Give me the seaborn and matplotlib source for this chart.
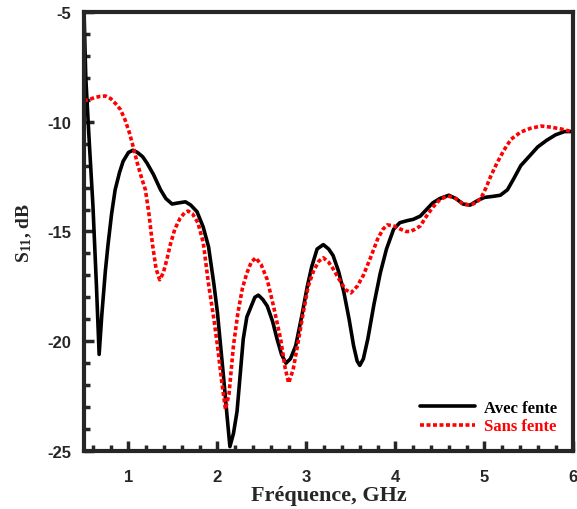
import numpy as np
import pandas as pd
import matplotlib
matplotlib.use("Agg")
import matplotlib.pyplot as plt
from matplotlib.ticker import MultipleLocator
import seaborn as sns

# S11 avec fente (courbe noire)
freq_avec = [0.50, 0.52, 0.56, 0.60, 0.64, 0.67, 0.70, 0.74, 0.77, 0.81, 0.85, 0.90, 0.94,
             1.00, 1.05, 1.10, 1.16, 1.21, 1.28, 1.36, 1.42, 1.49, 1.56, 1.64, 1.70, 1.77,
             1.84, 1.90, 1.96, 2.00, 2.07, 2.11, 2.14, 2.18, 2.22, 2.29, 2.33, 2.37, 2.42,
             2.46, 2.51, 2.56, 2.62, 2.67, 2.72, 2.77, 2.82, 2.88, 2.95, 3.01, 3.06, 3.12,
             3.19, 3.25, 3.30, 3.36, 3.42, 3.48, 3.53, 3.57, 3.60, 3.64, 3.69, 3.76, 3.83,
             3.90, 3.98, 4.05, 4.14, 4.20, 4.28, 4.35, 4.42, 4.50, 4.60, 4.68, 4.76, 4.84,
             4.92, 5.00, 5.10, 5.18, 5.26, 5.33, 5.41, 5.50, 5.60, 5.70, 5.80, 5.90, 6.00]
s11_avec = [-5.0, -8.0, -11.0, -13.8, -17.5, -20.6, -18.8, -16.8, -15.6, -14.2, -13.1, -12.3, -11.8,
            -11.4, -11.3, -11.4, -11.6, -11.9, -12.4, -13.1, -13.5, -13.75, -13.7, -13.65, -13.8, -14.1,
            -14.8, -15.7, -17.4, -18.7, -21.7, -23.5, -24.8, -24.2, -23.2, -19.9, -18.9, -18.5, -18.0,
            -17.9, -18.1, -18.4, -19.1, -19.9, -20.6, -21.0, -20.8, -20.2, -18.8, -17.5, -16.6, -15.8,
            -15.6, -15.8, -16.1, -16.8, -17.75, -19.0, -20.2, -20.9, -21.1, -20.8, -19.9, -18.3, -16.9,
            -15.8, -14.9, -14.6, -14.5, -14.45, -14.3, -14.0, -13.7, -13.5, -13.35, -13.5, -13.75, -13.8,
            -13.6, -13.45, -13.4, -13.35, -13.1, -12.6, -12.0, -11.6, -11.15, -10.85, -10.6, -10.45, -10.45]

# S11 sans fente (courbe rouge)
freq_sans = [0.50, 0.55, 0.62, 0.68, 0.74, 0.80, 0.86, 0.91, 0.96, 1.01, 1.05, 1.10, 1.15,
             1.19, 1.23, 1.27, 1.31, 1.35, 1.39, 1.43, 1.47, 1.52, 1.58, 1.63, 1.67, 1.72,
             1.78, 1.84, 1.90, 1.96, 2.00, 2.05, 2.09, 2.13, 2.18, 2.23, 2.28, 2.33, 2.38,
             2.43, 2.49, 2.56, 2.63, 2.71, 2.76, 2.80, 2.85, 2.90, 2.96, 3.02, 3.08, 3.14,
             3.19, 3.25, 3.30, 3.37, 3.44, 3.50, 3.57, 3.64, 3.72, 3.80, 3.86, 3.91, 3.98,
             4.06, 4.12, 4.17, 4.22, 4.28, 4.35, 4.42, 4.50, 4.59, 4.68, 4.76, 4.84, 4.90,
             4.96, 5.02, 5.07, 5.14, 5.22, 5.30, 5.41, 5.52, 5.64, 5.75, 5.86, 6.00]
s11_sans = [-9.05, -9.0, -8.9, -8.85, -8.83, -8.95, -9.2, -9.45, -9.9, -10.5, -11.1, -11.9, -12.6,
            -13.1, -14.2, -15.6, -16.7, -17.2, -16.9, -16.3, -15.6, -14.9, -14.4, -14.15, -14.07, -14.2,
            -14.6, -15.5, -17.4, -19.0, -20.2, -21.9, -23.1, -22.4, -20.2, -18.7, -17.6, -16.9, -16.4,
            -16.2, -16.5, -17.2, -18.4, -19.9, -21.2, -21.9, -21.3, -20.2, -18.8, -17.5, -16.8, -16.35,
            -16.2, -16.4, -16.7, -17.2, -17.65, -17.8, -17.5, -17.0, -16.2, -15.35, -14.9, -14.7, -14.75,
            -14.9, -15.0, -15.0, -14.9, -14.75, -14.3, -13.9, -13.55, -13.38, -13.5, -13.75, -13.8, -13.7,
            -13.5, -13.0, -12.5, -11.9, -11.3, -10.8, -10.47, -10.3, -10.2, -10.25, -10.33, -10.47]

sns.set_style("ticks")
plt.rcParams['font.family'] = ['Liberation Sans', 'DejaVu Sans']
plt.rcParams['axes.unicode_minus'] = False
plt.rcParams['mathtext.fontset'] = 'custom'
plt.rcParams['mathtext.rm'] = 'Liberation Serif:bold'
plt.rcParams['mathtext.default'] = 'rm'

df_avec = pd.DataFrame({'f': freq_avec, 's11': s11_avec})
df_sans = pd.DataFrame({'f': freq_sans, 's11': s11_sans})

fig = plt.figure(figsize=(5.77, 5.10), dpi=100)
ax = fig.add_axes([0.1456, 0.1137, 0.848, 0.861])

sns.lineplot(data=df_avec, x='f', y='s11', ax=ax, color='black', lw=2.6,
             label='Avec fente', sort=False)
sns.lineplot(data=df_sans, x='f', y='s11', ax=ax, color='red', lw=2.6,
             label='Sans fente', sort=False)
ax.lines[1].set_dashes((1.1, 0.7))

ax.set_xlim(0.5, 6)
ax.set_ylim(-25, -5)
ax.xaxis.set_major_locator(MultipleLocator(1))
ax.xaxis.set_minor_locator(MultipleLocator(0.2))
ax.yaxis.set_major_locator(MultipleLocator(5))
ax.yaxis.set_minor_locator(MultipleLocator(1))
ax.tick_params(which='both', direction='in', width=2.5, labelsize=12)
ax.tick_params(which='major', length=7)
ax.tick_params(which='minor', length=4.5)
ax.tick_params(axis='x', pad=13)
ax.tick_params(axis='y', pad=9)
for lab in ax.get_xticklabels() + ax.get_yticklabels():
    lab.set_fontweight('bold')
for sp in ax.spines.values():
    sp.set_visible(True)
    sp.set_linewidth(3)

ax.set_xlabel('Fréquence, GHz', family='Liberation Serif', fontweight='bold',
              fontsize=16, labelpad=1)
ax.set_ylabel('S$_{11}$, dB', family='Liberation Serif', fontweight='bold',
              fontsize=14, labelpad=10)

leg = ax.legend(loc='lower right', frameon=False, handlelength=3.3,
                prop={'family': 'Liberation Serif', 'weight': 'bold', 'size': 12},
                borderaxespad=0.6, labelspacing=0.15, handletextpad=0.5)
for txt, col in zip(leg.get_texts(), ['black', 'red']):
    txt.set_color(col)

fig.savefig('out.png', dpi=100)
